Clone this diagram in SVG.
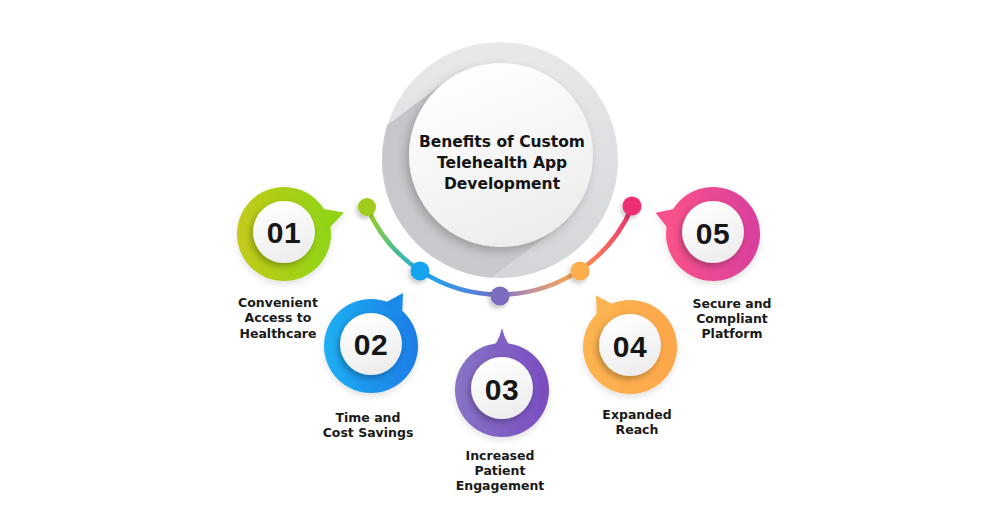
<svg xmlns="http://www.w3.org/2000/svg" width="1000" height="523" viewBox="0 0 1000 523">
  <defs>
    <style>
      .title { font-family: "DejaVu Sans", "Liberation Sans", sans-serif; font-weight: bold; font-size: 15.5px; fill: #141414; text-anchor: middle; }
      .num { font-family: "Liberation Sans", "DejaVu Sans", sans-serif; font-weight: bold; font-size: 30px; fill: #161616; text-anchor: middle; letter-spacing: 0.5px; }
      .lbl { font-family: "DejaVu Sans", "Liberation Sans", sans-serif; font-weight: bold; font-size: 12.5px; fill: #1a1a1a; text-anchor: middle; }
      .inner { fill: url(#whiteGrad); filter: url(#innerShadow); }
    </style>
    <linearGradient id="ringGrad" x1="0" y1="0" x2="0" y2="1">
      <stop offset="0" stop-color="#e8e9eb"/>
      <stop offset="1" stop-color="#d3d5d8"/>
    </linearGradient>
    <linearGradient id="longShadow" x1="0.8" y1="0" x2="0.2" y2="1">
      <stop offset="0" stop-color="#c1c3c6"/>
      <stop offset="1" stop-color="#cdcfd2"/>
    </linearGradient>
    <linearGradient id="whiteGrad" x1="0.3" y1="0" x2="0.7" y2="1">
      <stop offset="0" stop-color="#ffffff"/>
      <stop offset="1" stop-color="#ececec"/>
    </linearGradient>
    <linearGradient id="arcGrad" gradientUnits="userSpaceOnUse" x1="367" y1="0" x2="632" y2="0">
      <stop offset="0" stop-color="#a3d01a"/>
      <stop offset="0.1" stop-color="#4dbf8c"/>
      <stop offset="0.22" stop-color="#1fa6ee"/>
      <stop offset="0.38" stop-color="#4b86df"/>
      <stop offset="0.5" stop-color="#7e70c4"/>
      <stop offset="0.62" stop-color="#c5929a"/>
      <stop offset="0.78" stop-color="#fba64e"/>
      <stop offset="0.9" stop-color="#f7655e"/>
      <stop offset="1" stop-color="#ee2f70"/>
    </linearGradient>
    <linearGradient id="g1" x1="0" y1="0" x2="1" y2="0">
      <stop offset="0" stop-color="#c4ca1b"/>
      <stop offset="1" stop-color="#8fd412"/>
    </linearGradient>
    <linearGradient id="g2" x1="0" y1="0" x2="1" y2="0">
      <stop offset="0" stop-color="#20aff2"/>
      <stop offset="1" stop-color="#1b7ce6"/>
    </linearGradient>
    <linearGradient id="g3" x1="0" y1="0" x2="1" y2="0">
      <stop offset="0" stop-color="#8874c6"/>
      <stop offset="1" stop-color="#7a4cc0"/>
    </linearGradient>
    <linearGradient id="g4" x1="0" y1="0" x2="1" y2="0">
      <stop offset="0" stop-color="#fcb551"/>
      <stop offset="1" stop-color="#fda64b"/>
    </linearGradient>
    <linearGradient id="g5" x1="0" y1="0" x2="1" y2="0">
      <stop offset="0" stop-color="#fa538b"/>
      <stop offset="1" stop-color="#d73f9d"/>
    </linearGradient>
    <filter id="innerShadow" x="-30%" y="-30%" width="160%" height="160%">
      <feDropShadow dx="-2" dy="3" stdDeviation="3" flood-color="#000" flood-opacity="0.28"/>
    </filter>
    <filter id="bigShadow" x="-20%" y="-20%" width="140%" height="140%">
      <feDropShadow dx="-3" dy="4" stdDeviation="5" flood-color="#000" flood-opacity="0.22"/>
    </filter>
    <filter id="dotShadow" x="-60%" y="-60%" width="220%" height="220%">
      <feDropShadow dx="-2" dy="3" stdDeviation="2" flood-color="#000" flood-opacity="0.22"/>
    </filter>
    <filter id="badgeShadow" x="-20%" y="-20%" width="140%" height="140%">
      <feDropShadow dx="0" dy="3" stdDeviation="3" flood-color="#000" flood-opacity="0.12"/>
    </filter>
    <clipPath id="ringClip">
      <circle cx="500" cy="160" r="118"/>
    </clipPath>
  </defs>

  <rect width="1000" height="523" fill="#ffffff"/>

  <!-- Central node -->
  <g id="center">
    <circle cx="500" cy="160" r="118" fill="url(#ringGrad)"/>
    <g clip-path="url(#ringClip)">
      <polygon points="446,81 556,229 396,349 286,201" fill="url(#longShadow)"/>
    </g>
    <circle cx="501" cy="155" r="92" fill="url(#whiteGrad)" filter="url(#bigShadow)"/>
    <text class="title" x="502" y="147">Benefits of Custom</text>
    <text class="title" x="502" y="168">Telehealth App</text>
    <text class="title" x="502" y="189">Development</text>
  </g>

  <!-- Connectors -->
  <g id="connectors">
    <path d="M 367 207 A 144 144 0 0 0 632 207" fill="none" stroke="url(#arcGrad)" stroke-width="4.5" stroke-linecap="round"/>
    <circle cx="367" cy="207" r="9" fill="#9fcc1a" filter="url(#dotShadow)"/>
    <circle cx="420" cy="271" r="9.5" fill="#19a3f0" filter="url(#dotShadow)"/>
    <circle cx="500" cy="296" r="9.5" fill="#7c6cc0" filter="url(#dotShadow)"/>
    <circle cx="580" cy="271" r="9.5" fill="#fbae4c" filter="url(#dotShadow)"/>
    <circle cx="632" cy="206" r="9.5" fill="#ec2e72" filter="url(#dotShadow)"/>
  </g>

  <!-- Node 01 -->
  <g id="node01">
    <g filter="url(#badgeShadow)">
      <circle cx="284" cy="234" r="47" fill="url(#g1)"/>
      <polygon points="318,208 344,212.5 326.4,231" fill="#93d313"/>
    </g>
    <circle class="inner" cx="284" cy="232" r="31"/>
    <text class="num" x="284" y="243">01</text>
    <text class="lbl" x="278" y="307">Convenient</text>
    <text class="lbl" x="278" y="322">Access to</text>
    <text class="lbl" x="278" y="338">Healthcare</text>
  </g>

  <!-- Node 02 -->
  <g id="node02">
    <g filter="url(#badgeShadow)">
      <circle cx="371" cy="346" r="47" fill="url(#g2)"/>
      <polygon points="381,305 403,293 402,318" fill="#1c8ae9"/>
    </g>
    <circle class="inner" cx="371" cy="344" r="31"/>
    <text class="num" x="371" y="355">02</text>
    <text class="lbl" x="368" y="422">Time and</text>
    <text class="lbl" x="368" y="437">Cost Savings</text>
  </g>

  <!-- Node 03 -->
  <g id="node03">
    <g filter="url(#badgeShadow)">
      <circle cx="502" cy="390" r="47" fill="url(#g3)"/>
      <path d="M 489 350 Q 498 345 502 328 Q 506 345 515 350 Z" fill="#8060c4"/>
    </g>
    <circle class="inner" cx="502" cy="388" r="31"/>
    <text class="num" x="502" y="400">03</text>
    <text class="lbl" x="500" y="460">Increased</text>
    <text class="lbl" x="500" y="475">Patient</text>
    <text class="lbl" x="500" y="490">Engagement</text>
  </g>

  <!-- Node 04 -->
  <g id="node04">
    <g filter="url(#badgeShadow)">
      <circle cx="630" cy="347" r="47" fill="url(#g4)"/>
      <polygon points="597,320 596,295.6 618,307" fill="#fcb351"/>
    </g>
    <circle class="inner" cx="630" cy="345" r="31"/>
    <text class="num" x="630" y="357">04</text>
    <text class="lbl" x="637" y="419">Expanded</text>
    <text class="lbl" x="637" y="434">Reach</text>
  </g>

  <!-- Node 05 -->
  <g id="node05">
    <g filter="url(#badgeShadow)">
      <circle cx="713" cy="234" r="47" fill="url(#g5)"/>
      <polygon points="670,231 655.5,212.8 679,208" fill="#f8518c"/>
    </g>
    <circle class="inner" cx="713" cy="232" r="31"/>
    <text class="num" x="713" y="244">05</text>
    <text class="lbl" x="732" y="308">Secure and</text>
    <text class="lbl" x="732" y="323">Compliant</text>
    <text class="lbl" x="732" y="338">Platform</text>
  </g>
</svg>
